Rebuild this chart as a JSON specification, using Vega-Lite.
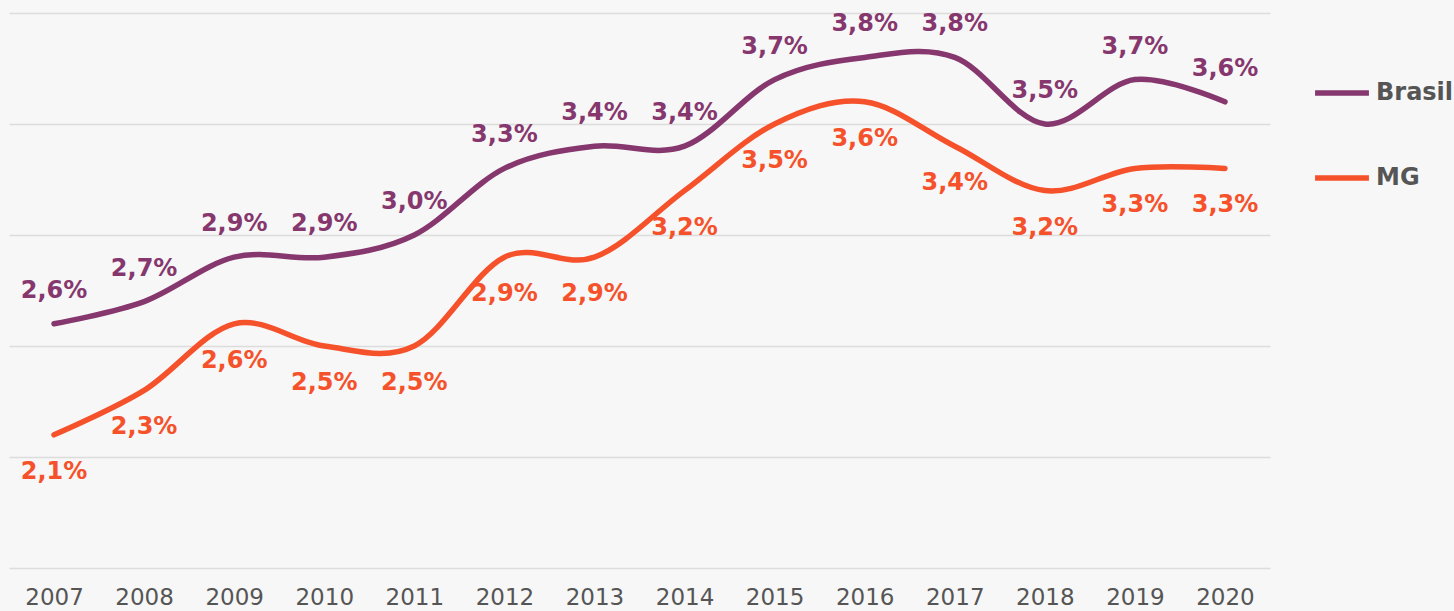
{
  "$schema": "https://vega.github.io/schema/vega-lite/v6.json",
  "autosize": "none",
  "width": 1261,
  "height": 555,
  "padding": {"left": 9, "top": 13, "right": 184, "bottom": 43},
  "background": "#f7f7f7",
  "config": {
    "view": {"stroke": null},
    "locale": {"number": {"decimal": ",", "thousands": ".", "grouping": [3], "currency": ["R$", ""]}}
  },
  "data": {
    "values": [
      {"ano": "2007", "serie": "Brasil", "valor": 0.026},
      {"ano": "2008", "serie": "Brasil", "valor": 0.027},
      {"ano": "2009", "serie": "Brasil", "valor": 0.029},
      {"ano": "2010", "serie": "Brasil", "valor": 0.029},
      {"ano": "2011", "serie": "Brasil", "valor": 0.030},
      {"ano": "2012", "serie": "Brasil", "valor": 0.033},
      {"ano": "2013", "serie": "Brasil", "valor": 0.034},
      {"ano": "2014", "serie": "Brasil", "valor": 0.034},
      {"ano": "2015", "serie": "Brasil", "valor": 0.037},
      {"ano": "2016", "serie": "Brasil", "valor": 0.038},
      {"ano": "2017", "serie": "Brasil", "valor": 0.038},
      {"ano": "2018", "serie": "Brasil", "valor": 0.035},
      {"ano": "2019", "serie": "Brasil", "valor": 0.037},
      {"ano": "2020", "serie": "Brasil", "valor": 0.036},
      {"ano": "2007", "serie": "MG", "valor": 0.021},
      {"ano": "2008", "serie": "MG", "valor": 0.023},
      {"ano": "2009", "serie": "MG", "valor": 0.026},
      {"ano": "2010", "serie": "MG", "valor": 0.025},
      {"ano": "2011", "serie": "MG", "valor": 0.025},
      {"ano": "2012", "serie": "MG", "valor": 0.029},
      {"ano": "2013", "serie": "MG", "valor": 0.029},
      {"ano": "2014", "serie": "MG", "valor": 0.032},
      {"ano": "2015", "serie": "MG", "valor": 0.035},
      {"ano": "2016", "serie": "MG", "valor": 0.036},
      {"ano": "2017", "serie": "MG", "valor": 0.034},
      {"ano": "2018", "serie": "MG", "valor": 0.032},
      {"ano": "2019", "serie": "MG", "valor": 0.033},
      {"ano": "2020", "serie": "MG", "valor": 0.033}
    ]
  },
  "encoding": {
    "x": {
      "field": "ano", "type": "ordinal",
      "scale": {"type": "point", "padding": 0.5},
      "axis": {
        "title": null, "domain": false, "ticks": false, "labelAngle": 0,
        "labelFont": "DejaVu Sans", "labelFontSize": 23, "labelColor": "#555555",
        "labelPadding": 18
      }
    },
    "y": {
      "field": "valor", "type": "quantitative",
      "scale": {"domain": [0.015, 0.040], "nice": false, "zero": false},
      "axis": {
        "title": null, "domain": false, "ticks": false, "labels": false,
        "values": [0.015, 0.020, 0.025, 0.030, 0.035, 0.040],
        "gridColor": "#dcdcdc", "gridWidth": 1.6
      }
    }
  },
  "layer": [
    {
      "mark": {"type": "line", "interpolate": "cardinal", "strokeWidth": 5.5, "strokeCap": "round"},
      "encoding": {
        "color": {
          "field": "serie", "type": "nominal",
          "scale": {"domain": ["Brasil", "MG"], "range": ["#86376e", "#f5512b"]},
          "legend": {
            "title": null, "orient": "none", "legendX": 1303, "legendY": 50,
            "symbolType": "stroke", "symbolSize": 2900, "symbolStrokeWidth": 5.5,
            "labelFont": "DejaVu Sans", "labelFontWeight": "bold", "labelFontSize": 24,
            "labelColor": "#555555", "rowPadding": 43, "labelOffset": 4, "labelLimit": 300
          }
        }
      }
    },
    {
      "transform": [{"filter": "datum.serie == 'Brasil'"}],
      "mark": {"type": "text", "dy": -33, "font": "DejaVu Sans", "fontWeight": "bold", "fontSize": 24, "color": "#86376e"},
      "encoding": {"text": {"field": "valor", "type": "quantitative", "format": ".1%"}}
    },
    {
      "transform": [{"filter": "datum.serie == 'MG'"}],
      "mark": {"type": "text", "dy": 37, "font": "DejaVu Sans", "fontWeight": "bold", "fontSize": 24, "color": "#f5512b"},
      "encoding": {"text": {"field": "valor", "type": "quantitative", "format": ".1%"}}
    }
  ]
}
